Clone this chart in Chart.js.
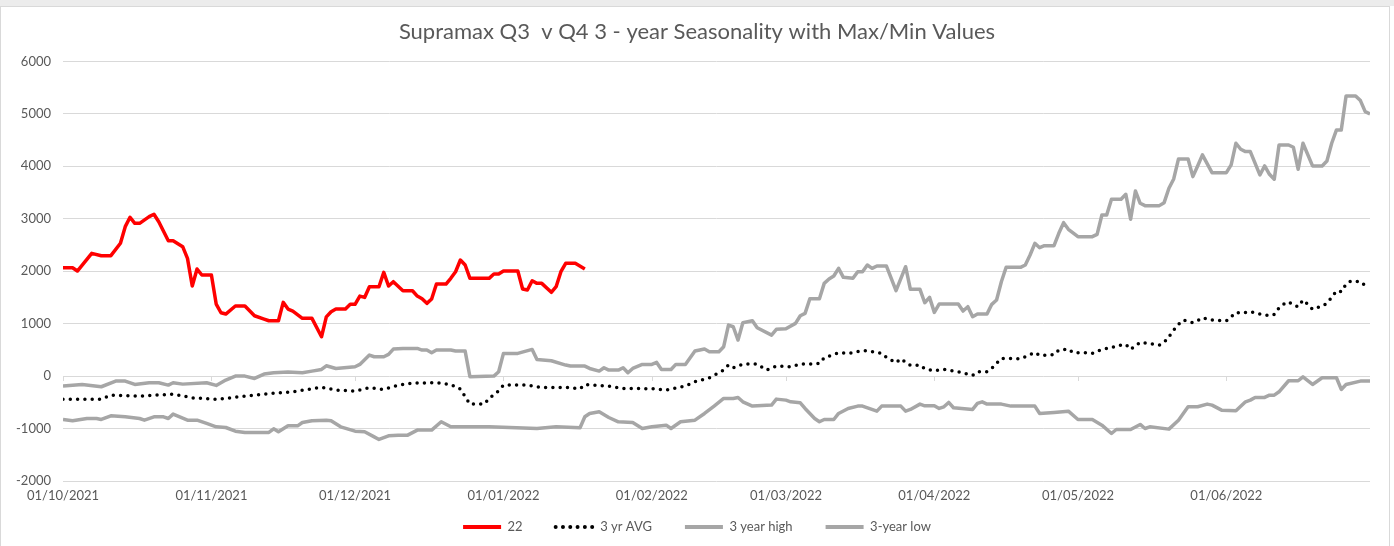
<!DOCTYPE html>
<html>
<head>
<meta charset="utf-8">
<script src="https://cdn.jsdelivr.net/npm/chart.js@4.4.1/dist/chart.umd.min.js"></script>
<style>
    html, body { margin: 0; padding: 0; background: #ffffff; }
    #topStrip { position: absolute; left: 0; top: 0; width: 1394px; height: 6px; background: #ececec; }
    #frame { position: absolute; left: 0; top: 6px; width: 1388px; height: 539px; border: 1px solid #d9d9d9; }
    #wrap { position: absolute; left: 0; top: 0; width: 1394px; height: 546px; }
</style>
</head>
<body>
<div id="topStrip"></div>
<div id="frame"></div>
<div id="wrap"><canvas id="seasonChart"></canvas></div>
<script>
// ========= DATA (x = days since 01/10/2021) =========
const monthDays = [0, 31, 61, 92, 123, 151, 182, 212, 243];
const monthLabels = ['01/10/2021', '01/11/2021', '01/12/2021', '01/01/2022', '01/02/2022',
    '01/03/2022', '01/04/2022', '01/05/2022', '01/06/2022'];

// 22
const redDays = [
    0, 2, 3, 6, 8, 10, 12, 13, 14, 15,
    16, 18, 19, 20, 22, 23, 25, 26, 27, 28,
    29, 31, 32, 33, 34, 36, 38, 40, 42, 43,
    45, 46, 47, 48, 50, 52, 54, 55, 56, 57,
    59, 60, 61, 62, 63, 64, 66, 67, 68, 69,
    71, 73, 74, 75, 76, 77, 78, 80, 81, 82,
    83, 84, 85, 89, 90, 91, 92, 95, 96, 97,
    98, 99, 100, 102, 103, 104, 105, 107, 109
];
const redValues = [
    2066, 2066, 2003, 2340, 2296, 2296, 2532, 2849, 3028, 2913,
    2913, 3040, 3085, 2944, 2582, 2582, 2467, 2245, 1717, 2041,
    1927, 1927, 1374, 1208, 1183, 1336, 1336, 1151, 1088, 1055,
    1055, 1406, 1278, 1240, 1101, 1101, 750, 1130, 1227, 1278,
    1278, 1368, 1368, 1526, 1500, 1704, 1704, 1978, 1717, 1800,
    1628, 1628, 1526, 1475, 1387, 1469, 1755, 1755, 1864, 1990,
    2213, 2118, 1864, 1864, 1946, 1946, 2003, 2003, 1660, 1641,
    1818, 1768, 1768, 1597, 1704, 1990, 2150, 2150, 2041
];

// 3 yr AVG
const avgDays = [
    0, 8, 10, 16, 23, 27, 32, 38, 45, 48,
    54, 57, 61, 64, 67, 70, 73, 78, 81, 83,
    85, 88, 89, 91, 92, 97, 100, 105, 108, 109,
    114, 117, 123, 126, 130, 132, 135, 138, 139, 140,
    142, 145, 147, 149, 152, 154, 157, 158, 159, 162,
    164, 167, 168, 171, 172, 174, 175, 177, 179, 180,
    182, 184, 187, 190, 191, 193, 194, 196, 198, 200,
    201, 203, 204, 207, 208, 210, 211, 214, 215, 217,
    219, 220, 222, 223, 225, 228, 229, 230, 231, 232,
    233, 234, 236, 237, 238, 240, 243, 244, 245, 246,
    248, 250, 252, 253, 254, 255, 256, 257, 258, 259,
    260, 261, 263, 264, 265, 266, 267, 268, 269, 271,
    272
];
const avgValues = [
    -439, -439, -363, -382, -343, -414, -445, -382, -318, -299,
    -213, -267, -286, -222, -254, -172, -134, -127, -159, -248,
    -534, -534, -426, -280, -172, -172, -216, -216, -241, -159,
    -191, -235, -241, -267, -191, -108, -32, 114, 210, 159,
    229, 229, 114, 191, 178, 229, 229, 242, 350, 445,
    433, 483, 483, 433, 356, 254, 330, 204, 210, 140,
    101, 127, 82, 13, 82, 82, 146, 337, 337, 330,
    369, 452, 394, 407, 496, 515, 445, 445, 433, 509,
    541, 579, 604, 509, 643, 604, 591, 643, 750, 878,
    986, 1068, 1017, 1055, 1112, 1068, 1055, 1132, 1215, 1196,
    1227, 1183, 1151, 1177, 1303, 1374, 1418, 1355, 1323, 1450,
    1368, 1272, 1336, 1387, 1501, 1622, 1609, 1755, 1813, 1800,
    1723
];

// 3 year high
const highDays = [
    0, 4, 8, 11, 13, 15, 18, 20, 22, 23,
    25, 30, 32, 34, 36, 38, 40, 42, 44, 47,
    50, 52, 54, 55, 57, 61, 62, 64, 65, 67,
    68, 69, 71, 74, 75, 76, 77, 78, 81, 82,
    84, 85, 90, 91, 92, 95, 98, 99, 102, 105,
    106, 109, 110, 112, 113, 114, 116, 117, 118, 119,
    121, 123, 124, 125, 127, 128, 130, 132, 134, 135,
    137, 138, 139, 140, 141, 142, 144, 145, 148, 149,
    151, 153, 154, 155, 156, 158, 159, 160, 161, 162,
    163, 165, 166, 167, 168, 169, 170, 172, 174, 176,
    177, 179, 180, 181, 182, 183, 187, 188, 189, 190,
    191, 193, 194, 195, 196, 197, 200, 201, 202, 203,
    204, 205, 207, 208, 209, 210, 212, 215, 216, 217,
    218, 219, 221, 222, 223, 224, 225, 226, 229, 230,
    231, 232, 233, 235, 236, 237, 238, 240, 243, 244,
    245, 246, 247, 248, 250, 251, 252, 253, 254, 256,
    257, 258, 259, 261, 263, 264, 265, 266, 267, 268,
    270, 271, 272, 273
];
const highValues = [
    -191, -159, -203, -95, -95, -159, -127, -127, -172, -127,
    -153, -127, -178, -76, 0, 0, -45, 38, 64, 76,
    64, 95, 127, 197, 146, 178, 223, 401, 369, 369,
    414, 515, 528, 528, 496, 496, 445, 496, 496, 477,
    477, -13, 0, 82, 433, 433, 509, 318, 293, 210,
    191, 191, 146, 95, 159, 114, 114, 159, 64, 146,
    223, 223, 261, 127, 127, 223, 223, 477, 515, 464,
    464, 560, 973, 941, 687, 1017, 1055, 922, 782, 891,
    903, 1005, 1151, 1196, 1475, 1475, 1768, 1851, 1908, 2055,
    1883, 1864, 1990, 1990, 2118, 2055, 2099, 2099, 1628, 2086,
    1654, 1654, 1399, 1501, 1215, 1374, 1374, 1240, 1323, 1132,
    1183, 1183, 1368, 1450, 1800, 2074, 2074, 2118, 2309, 2532,
    2448, 2486, 2486, 2722, 2925, 2799, 2658, 2658, 2703, 3072,
    3072, 3371, 3371, 3467, 2990, 3530, 3295, 3250, 3250, 3307,
    3581, 3759, 4140, 4140, 3803, 4007, 4217, 3879, 3879, 4026,
    4440, 4325, 4280, 4280, 3835, 4007, 3848, 3753, 4407, 4407,
    4363, 3943, 4440, 4007, 4007, 4102, 4440, 4694, 4694, 5342,
    5342, 5253, 5043, 4999
];

// 3-year low
const lowDays = [
    0, 2, 5, 7, 8, 10, 13, 16, 17, 19,
    21, 22, 23, 26, 28, 30, 32, 34, 36, 38,
    43, 44, 45, 47, 49, 50, 52, 55, 56, 58,
    61, 63, 65, 66, 68, 70, 72, 74, 77, 79,
    81, 89, 99, 103, 108, 109, 110, 112, 114, 116,
    119, 121, 123, 126, 127, 129, 132, 134, 136, 138,
    140, 141, 142, 144, 148, 149, 151, 152, 154, 155,
    157, 158, 159, 161, 162, 164, 166, 167, 170, 171,
    175, 176, 177, 179, 180, 182, 183, 184, 185, 186,
    190, 191, 192, 193, 196, 198, 203, 204, 207, 210,
    212, 215, 217, 219, 220, 223, 225, 226, 227, 231,
    233, 235, 237, 239, 240, 242, 245, 247, 248, 249,
    251, 252, 253, 254, 256, 258, 259, 261, 263, 266,
    267, 268, 271, 273
];
const lowValues = [
    -827, -852, -808, -808, -827, -757, -776, -808, -840, -776,
    -776, -808, -725, -840, -840, -903, -967, -980, -1050, -1075,
    -1075, -1005, -1062, -948, -948, -884, -852, -840, -852, -967,
    -1050, -1062, -1158, -1208, -1139, -1126, -1126, -1030, -1030, -871,
    -967, -967, -999, -967, -986, -776, -712, -680, -789, -871,
    -884, -999, -967, -935, -999, -871, -840, -712, -572, -426,
    -426, -407, -490, -572, -553, -439, -458, -490, -509, -617,
    -808, -871, -827, -827, -712, -617, -572, -572, -668, -572,
    -572, -668, -636, -534, -566, -566, -617, -585, -502, -604,
    -636, -521, -490, -534, -534, -572, -572, -712, -693, -668,
    -827, -827, -935, -1094, -1018, -1018, -922, -999, -967, -1011,
    -840, -585, -585, -534, -553, -649, -661, -490, -458, -407,
    -407, -363, -363, -299, -89, -89, -13, -159, -32, -32,
    -254, -159, -95, -95
];

// ========= HELPERS =========
function toPoints(days, values) {
    return days.map((d, i) => ({ x: d, y: values[i] }));
}

const textColor = '#595959';
const gridColor = '#d9d9d9';
const grey = '#a6a6a6';

// small tick marks where the x axis crosses zero
const zeroTicks = {
    id: 'zeroTicks',
    beforeDatasetsDraw(chart) {
        const { ctx, scales: { x, y } } = chart;
        const y0 = Math.round(y.getPixelForValue(0));
        ctx.save();
        ctx.strokeStyle = gridColor;
        ctx.lineWidth = 1;
        x.ticks.forEach(t => {
            const px = Math.round(x.getPixelForValue(t.value)) + 0.5;
            ctx.beginPath();
            ctx.moveTo(px, y0);
            ctx.lineTo(px, y0 + 5);
            ctx.stroke();
        });
        ctx.restore();
    }
};

// legend padding is wide (for spacing between items), so pull its top up a bit
const legendLift = {
    id: 'legendLift',
    afterLayout(chart) {
        const lg = chart.legend;
        if (!lg) return;
        lg.top -= 17.5;
    }
};

// legend entries drawn as short line samples (keeps the dotted style)
function legendLabels(chart) {
    return chart.data.datasets.map((ds, i) => ({
        text: ds.label,
        fillStyle: ds.borderColor,
        strokeStyle: ds.borderColor,
        fontColor: textColor,
        lineWidth: 4,
        lineDash: ds.borderDash || [],
        lineCap: ds.borderCapStyle || 'butt',
        pointStyle: 'line',
        hidden: false,
        datasetIndex: i
    }));
}

// ========= CHART =========
function initSeasonChart() {
    const ctx = document.getElementById('seasonChart').getContext('2d');

    const lineStyle = {
        pointRadius: 0,
        pointHoverRadius: 0,
        tension: 0,
        fill: false,
        borderJoinStyle: 'round'
    };

    new Chart(ctx, {
        type: 'line',
        data: {
            datasets: [
                Object.assign({
                    label: '22',
                    data: toPoints(redDays, redValues),
                    borderColor: '#ff0000',
                    backgroundColor: '#ff0000',
                    borderWidth: 3.5
                }, lineStyle),
                Object.assign({
                    label: '3 yr AVG',
                    data: toPoints(avgDays, avgValues),
                    borderColor: '#000000',
                    backgroundColor: '#000000',
                    borderWidth: 3.5,
                    borderDash: [0, 7.3],
                    borderCapStyle: 'round'
                }, lineStyle),
                Object.assign({
                    label: '3 year high',
                    data: toPoints(highDays, highValues),
                    borderColor: grey,
                    backgroundColor: grey,
                    borderWidth: 3.5
                }, lineStyle),
                Object.assign({
                    label: '3-year low',
                    data: toPoints(lowDays, lowValues),
                    borderColor: grey,
                    backgroundColor: grey,
                    borderWidth: 3.5
                }, lineStyle)
            ]
        },
        options: {
            responsive: true,
            maintainAspectRatio: false,
            animation: false,
            layout: {
                padding: { left: 0, right: 0, top: 0, bottom: 2 }
            },
            scales: {
                x: {
                    type: 'linear',
                    min: 0,
                    max: 273,
                    afterBuildTicks: scale => {
                        scale.ticks = monthDays.map(v => ({ value: v }));
                    },
                    afterFit: scale => { scale.height = 24; },
                    ticks: {
                        autoSkip: false,
                        maxRotation: 0,
                        padding: 7,
                        color: textColor,
                        font: { family: 'Lato', size: 13 },
                        callback: value => monthLabels[monthDays.indexOf(value)]
                    },
                    grid: { display: false, drawTicks: false },
                    border: { display: false }
                },
                y: {
                    min: -2000,
                    max: 6000,
                    afterFit: scale => { scale.width = 63; },
                    ticks: {
                        stepSize: 1000,
                        padding: 12,
                        color: textColor,
                        font: { family: 'Lato', size: 13 },
                        callback: value => String(value)
                    },
                    grid: { color: gridColor, drawTicks: false },
                    border: { display: false }
                },
                // empty right-hand gutter so the title and legend centre on the whole canvas
                gutter: {
                    position: 'right',
                    display: true,
                    afterFit: scale => { scale.width = 24; },
                    ticks: { display: false },
                    grid: { display: false, drawTicks: false },
                    border: { display: false }
                }
            },
            plugins: {
                title: {
                    display: true,
                    text: 'Supramax Q3  v Q4 3 - year Seasonality with Max/Min Values',
                    color: textColor,
                    font: { family: 'Lato', size: 22, weight: 'normal' },
                    padding: { top: 19, bottom: 16 }
                },
                legend: {
                    position: 'bottom',
                    maxHeight: 39,
                    labels: {
                        usePointStyle: true,
                        pointStyle: 'line',
                        pointStyleWidth: 38,
                        boxHeight: 13,
                        padding: 33,
                        color: textColor,
                        font: { family: 'Lato', size: 13 },
                        generateLabels: legendLabels
                    }
                },
                tooltip: { enabled: false }
            }
        },
        plugins: [zeroTicks, legendLift]
    });
}

document.addEventListener('DOMContentLoaded', () => {
    initSeasonChart();
});
</script>
</body>
</html>
